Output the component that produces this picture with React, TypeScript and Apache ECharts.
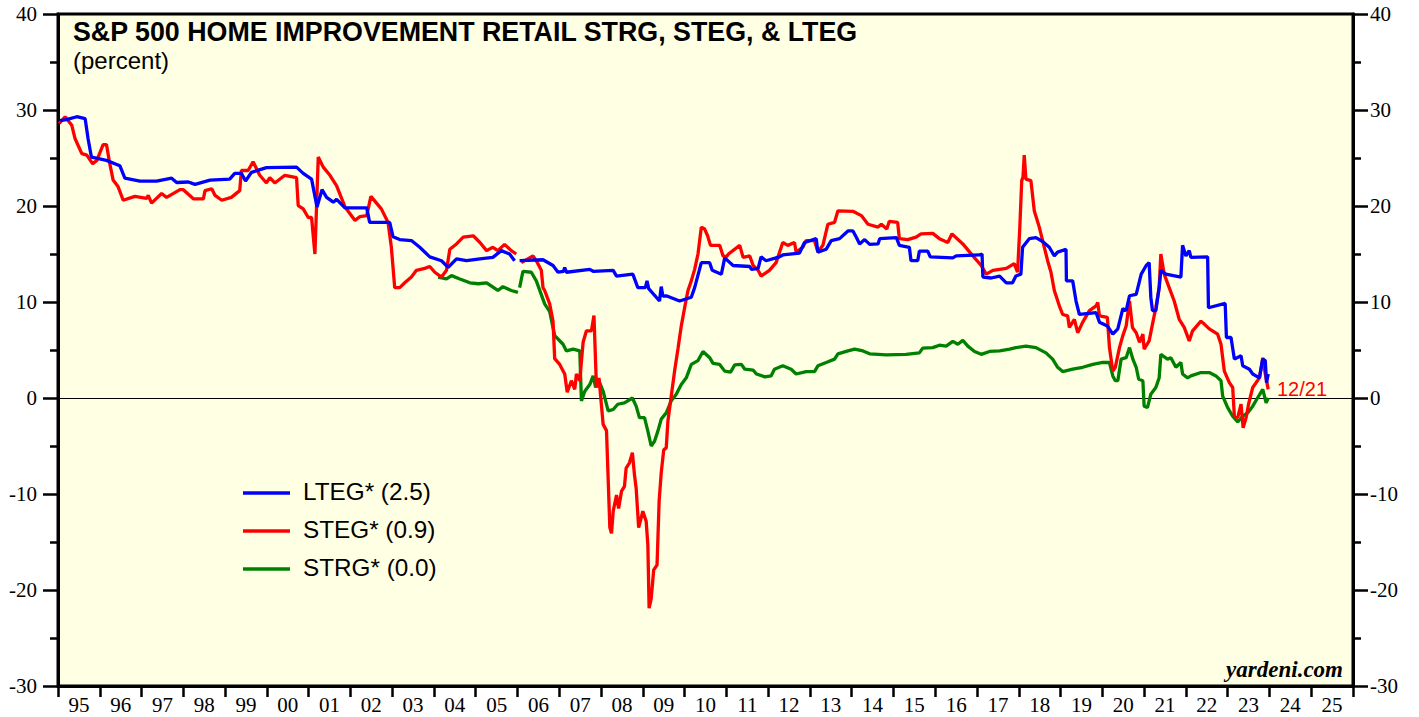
import React, { useEffect, useRef } from 'react';
import * as echarts from 'echarts';

const yearLabels = ['95','96','97','98','99','00','01','02','03','04','05','06','07','08','09','10','11','12','13','14','15','16','17','18','19','20','21','22','23','24','25'];

const legendNames = ['LTEG* (2.5)', 'STEG* (0.9)', 'STRG* (0.0)'];

const ltegData: [number, number | null][] = [
[1995.05,28.9],[1995.2,29.0],[1995.45,29.3],[1995.65,29.1],[1995.72,27.0],[1995.8,25.1],[1996.16,24.75],[1996.48,24.2],[1996.6,22.9],[1996.96,22.6],[1997.36,22.6],[1997.72,22.9],[1997.84,22.45],[1998.12,22.5],[1998.28,22.25],[1998.64,22.7],[1999.11,22.8],[1999.23,23.4],[1999.39,23.4],[1999.49,22.6],[1999.63,23.5],[1999.99,24.0],[2000.71,24.05],[2000.87,23.4],[2001.07,22.8],[2001.2,19.9],[2001.32,21.7],[2001.43,20.9],[2001.59,20.4],[2001.67,20.7],[2001.87,19.8],[2002.39,19.8],[2002.46,18.3],[2002.94,18.3],[2003.02,16.8],[2003.18,16.5],[2003.46,16.4],[2003.66,15.7],[2003.9,14.7],[2004.18,14.3],[2004.34,13.6],[2004.54,14.5],[2004.78,14.3],[2005.1,14.5],[2005.41,14.65],[2005.61,15.35],[2005.81,15.0],[2005.93,14.3],[2006.0,null],[2006.05,14.3],[2006.61,14.4],[2006.85,13.8],[2006.97,13.1],[2007.1,13.2],[2007.13,13.6],[2007.17,13.1],[2007.73,13.4],[2007.81,13.2],[2008.29,13.3],[2008.37,12.7],[2008.76,12.9],[2008.88,11.5],[2009.06,11.5],[2009.1,12.2],[2009.14,11.4],[2009.4,10.1],[2009.44,11.6],[2009.48,10.6],[2009.56,10.65],[2009.88,10.1],[2010.16,10.5],[2010.24,11.5],[2010.4,14.1],[2010.6,14.1],[2010.66,13.3],[2010.88,12.9],[2010.96,14.6],[2011.16,13.8],[2011.56,13.7],[2011.6,13.4],[2011.76,13.5],[2011.83,14.7],[2011.95,14.3],[2012.27,14.7],[2012.35,14.9],[2012.75,15.1],[2012.87,16.2],[2013.15,16.6],[2013.19,15.2],[2013.39,15.5],[2013.51,16.4],[2013.71,16.6],[2013.91,17.4],[2014.03,17.4],[2014.11,16.75],[2014.19,16.05],[2014.31,16.5],[2014.43,16.0],[2014.63,16.05],[2014.67,16.6],[2015.07,16.7],[2015.14,15.9],[2015.38,15.7],[2015.42,14.3],[2015.58,14.3],[2015.62,15.3],[2015.82,15.3],[2015.88,14.7],[2016.42,14.6],[2016.5,14.8],[2017.06,14.9],[2017.12,15.0],[2017.14,12.6],[2017.34,12.5],[2017.54,12.7],[2017.7,12.0],[2017.85,12.0],[2017.93,12.7],[2018.05,12.9],[2018.09,15.7],[2018.25,16.6],[2018.41,16.7],[2018.57,16.3],[2018.73,15.7],[2018.85,14.8],[2018.93,15.2],[2019.13,15.5],[2019.14,12.2],[2019.29,12.2],[2019.37,10.1],[2019.45,8.7],[2019.85,8.9],[2019.93,7.9],[2020.12,7.5],[2020.25,6.65],[2020.37,7.2],[2020.49,9.3],[2020.57,9.1],[2020.65,10.65],[2020.81,10.8],[2020.93,12.9],[2021.05,13.8],[2021.12,14.1],[2021.16,10.5],[2021.2,9.1],[2021.28,9.1],[2021.36,11.5],[2021.4,13.3],[2021.52,12.9],[2021.88,12.6],[2021.92,15.9],[2022.0,14.8],[2022.08,15.35],[2022.12,14.65],[2022.52,14.7],[2022.54,9.4],[2022.94,9.85],[2022.97,6.3],[2023.08,6.3],[2023.16,4.05],[2023.32,4.4],[2023.36,3.35],[2023.52,3.0],[2023.6,2.5],[2023.76,2.1],[2023.84,4.05],[2023.9,3.9],[2023.93,1.6],[2023.97,2.5]
];

const stegData: [number, number | null][] = [
[1995.03,28.6],[1995.06,28.75],[1995.17,29.3],[1995.33,28.4],[1995.41,27.0],[1995.57,25.45],[1995.69,25.3],[1995.83,24.4],[1995.93,24.75],[1996.08,26.4],[1996.16,26.4],[1996.24,24.4],[1996.32,22.7],[1996.44,22.0],[1996.56,20.6],[1996.84,21.0],[1997.12,20.8],[1997.16,21.1],[1997.24,20.3],[1997.48,21.3],[1997.6,20.9],[1997.92,21.7],[1998.0,21.7],[1998.24,20.75],[1998.48,20.75],[1998.52,21.6],[1998.68,21.8],[1998.76,21.1],[1998.92,20.6],[1999.15,20.9],[1999.35,21.6],[1999.39,23.7],[1999.55,23.7],[1999.67,24.6],[1999.83,23.2],[1999.99,22.4],[2000.07,22.95],[2000.19,22.4],[2000.43,23.2],[2000.71,22.95],[2000.75,20.05],[2000.87,19.7],[2000.99,18.8],[2001.07,18.8],[2001.15,15.0],[2001.23,25.1],[2001.35,24.05],[2001.51,23.2],[2001.67,22.1],[2001.87,19.9],[2001.99,19.2],[2002.11,18.5],[2002.23,18.9],[2002.39,19.0],[2002.49,21.0],[2002.74,19.7],[2002.9,18.3],[2002.98,15.7],[2003.06,11.5],[2003.18,11.5],[2003.3,12.0],[2003.46,12.6],[2003.58,13.3],[2003.78,13.5],[2003.9,13.7],[2004.02,13.1],[2004.18,12.6],[2004.3,13.3],[2004.38,15.5],[2004.54,16.05],[2004.7,16.75],[2004.94,16.9],[2005.1,16.2],[2005.26,15.35],[2005.41,15.7],[2005.53,15.35],[2005.69,16.0],[2005.85,15.35],[2005.97,15.0],[2006.03,null],[2006.09,14.1],[2006.37,14.8],[2006.45,14.3],[2006.57,13.3],[2006.61,11.5],[2006.65,11.2],[2006.77,9.8],[2006.85,8.0],[2006.89,4.1],[2007.01,3.5],[2007.13,2.5],[2007.19,0.6],[2007.29,1.8],[2007.37,0.9],[2007.41,2.5],[2007.49,1.8],[2007.57,5.8],[2007.65,7.0],[2007.77,7.0],[2007.83,8.6],[2007.89,1.1],[2007.95,2.1],[2008.05,-2.75],[2008.13,-3.4],[2008.21,-13.5],[2008.25,-14.1],[2008.29,-11.8],[2008.37,-10.1],[2008.42,-11.5],[2008.49,-9.7],[2008.56,-9.2],[2008.6,-7.3],[2008.68,-6.75],[2008.75,-5.7],[2008.8,-8.0],[2008.84,-9.4],[2008.9,-13.5],[2009.0,-11.8],[2009.08,-12.85],[2009.12,-15.3],[2009.15,-21.9],[2009.2,-20.9],[2009.26,-17.9],[2009.34,-17.4],[2009.39,-10.75],[2009.44,-7.8],[2009.5,-5.4],[2009.56,-5.2],[2009.6,-2.4],[2009.68,0.2],[2009.76,2.8],[2009.84,5.1],[2009.92,7.5],[2010.0,9.4],[2010.08,11.2],[2010.16,12.2],[2010.24,13.4],[2010.32,15.0],[2010.4,17.8],[2010.48,17.6],[2010.55,16.9],[2010.62,15.9],[2010.84,15.9],[2010.92,14.8],[2011.0,14.7],[2011.05,15.0],[2011.32,15.9],[2011.4,14.65],[2011.56,14.8],[2011.64,13.8],[2011.76,13.3],[2011.83,12.7],[2012.03,13.3],[2012.19,14.1],[2012.35,16.2],[2012.47,15.9],[2012.63,16.2],[2012.67,15.2],[2012.83,15.7],[2012.91,16.4],[2013.11,16.4],[2013.19,15.2],[2013.31,15.9],[2013.43,18.1],[2013.59,18.3],[2013.67,19.5],[2014.03,19.45],[2014.23,19.0],[2014.39,18.1],[2014.63,17.8],[2014.71,18.1],[2014.84,17.6],[2014.9,18.4],[2015.1,18.3],[2015.14,16.6],[2015.34,16.5],[2015.54,16.75],[2015.66,17.1],[2015.94,17.15],[2016.1,16.6],[2016.3,16.2],[2016.4,17.1],[2016.66,16.05],[2016.9,14.8],[2017.1,13.8],[2017.22,12.9],[2017.38,13.3],[2017.7,13.5],[2017.89,14.0],[2017.97,13.1],[2018.02,17.4],[2018.07,22.65],[2018.1,23.0],[2018.13,25.3],[2018.17,22.8],[2018.29,22.65],[2018.37,19.5],[2018.49,17.8],[2018.57,16.4],[2018.69,14.3],[2018.77,13.1],[2018.85,11.2],[2018.97,9.6],[2019.05,8.7],[2019.17,8.55],[2019.21,7.35],[2019.33,8.2],[2019.41,6.8],[2019.53,7.9],[2019.69,9.1],[2019.85,9.6],[2019.89,9.95],[2019.93,8.55],[2020.12,8.4],[2020.17,5.25],[2020.25,2.8],[2020.31,3.2],[2020.41,5.25],[2020.49,6.5],[2020.57,7.5],[2020.65,10.1],[2020.72,7.35],[2020.81,6.8],[2020.89,5.8],[2020.97,6.65],[2021.0,5.1],[2021.12,5.95],[2021.2,7.7],[2021.28,9.4],[2021.36,11.5],[2021.4,15.0],[2021.48,12.9],[2021.6,11.5],[2021.72,10.1],[2021.84,8.2],[2021.96,7.35],[2022.08,5.95],[2022.16,7.0],[2022.36,8.0],[2022.44,7.7],[2022.56,7.2],[2022.76,6.65],[2022.84,5.6],[2022.92,2.8],[2023.04,1.6],[2023.12,1.1],[2023.16,-1.9],[2023.24,-2.05],[2023.32,-0.65],[2023.37,-3.1],[2023.44,-2.05],[2023.5,-0.65],[2023.6,1.1],[2023.76,2.1],[2023.84,4.2],[2023.9,2.5],[2023.97,0.9]
];

const strgData: [number, number | null][] = [
[2004.1,12.6],[2004.3,12.4],[2004.42,12.75],[2004.62,12.4],[2004.86,12.0],[2005.06,11.9],[2005.26,12.0],[2005.53,11.2],[2005.65,11.6],[2005.85,11.2],[2006.01,11.0],[2006.03,null],[2006.05,11.5],[2006.13,13.2],[2006.33,13.1],[2006.45,12.2],[2006.55,11.0],[2006.65,9.8],[2006.77,9.0],[2006.89,6.5],[2007.09,5.6],[2007.17,4.9],[2007.33,5.1],[2007.49,4.9],[2007.53,-0.3],[2007.61,0.7],[2007.73,1.4],[2007.81,2.3],[2007.87,1.1],[2007.93,2.0],[2008.05,0.7],[2008.17,-1.35],[2008.29,-1.2],[2008.4,-0.65],[2008.56,-0.5],[2008.75,0.0],[2008.84,-0.85],[2008.92,-2.05],[2009.04,-2.05],[2009.12,-3.45],[2009.2,-5.0],[2009.28,-4.5],[2009.36,-3.45],[2009.44,-2.2],[2009.56,-1.55],[2009.68,-0.3],[2009.8,0.4],[2009.92,1.4],[2010.04,2.1],[2010.16,3.5],[2010.32,3.9],[2010.44,4.85],[2010.6,4.2],[2010.68,3.6],[2010.84,3.5],[2010.96,2.8],[2011.1,2.7],[2011.2,3.45],[2011.36,3.5],[2011.44,3.0],[2011.64,2.9],[2011.72,2.5],[2011.92,2.2],[2012.07,2.3],[2012.15,3.0],[2012.35,3.35],[2012.55,3.0],[2012.67,2.5],[2012.91,2.75],[2013.11,2.75],[2013.19,3.35],[2013.39,3.7],[2013.59,4.05],[2013.67,4.6],[2013.91,4.9],[2014.07,5.1],[2014.27,4.9],[2014.43,4.6],[2014.83,4.5],[2015.3,4.55],[2015.62,4.7],[2015.7,5.2],[2015.94,5.25],[2016.1,5.5],[2016.26,5.4],[2016.42,5.9],[2016.54,5.6],[2016.66,6.0],[2016.78,5.4],[2016.94,4.85],[2017.1,4.55],[2017.3,4.85],[2017.54,4.9],[2017.78,5.1],[2017.93,5.25],[2018.17,5.4],[2018.41,5.25],[2018.65,4.7],[2018.81,4.05],[2018.93,3.2],[2019.05,2.75],[2019.29,3.0],[2019.53,3.2],[2019.77,3.5],[2020.01,3.7],[2020.17,3.7],[2020.25,2.3],[2020.31,1.8],[2020.37,1.8],[2020.45,4.05],[2020.57,4.2],[2020.65,5.25],[2020.73,4.05],[2020.81,3.2],[2020.87,1.95],[2020.97,1.8],[2021.0,-0.85],[2021.08,-1.0],[2021.16,0.4],[2021.28,1.1],[2021.36,2.1],[2021.4,4.55],[2021.56,4.05],[2021.64,4.2],[2021.76,3.2],[2021.88,3.7],[2021.92,2.5],[2022.04,2.1],[2022.12,2.3],[2022.36,2.65],[2022.56,2.65],[2022.72,2.3],[2022.84,1.8],[2022.88,0.2],[2023.0,-1.0],[2023.12,-1.9],[2023.24,-2.5],[2023.36,-1.9],[2023.48,-1.55],[2023.6,-0.85],[2023.72,0.05],[2023.84,0.9],[2023.92,-0.5],[2023.97,0.0]
];

const BLUE = '#0000ff';
const RED = '#ff0000';
const GREEN = '#008000';
const SANS = '"Liberation Sans", Arial, sans-serif';
const SERIF = '"Liberation Serif", "Times New Roman", serif';

function yAxisCfg(position: 'left' | 'right', margin: number) {
  return {
    type: 'value',
    position,
    min: -30,
    max: 40,
    interval: 10,
    axisLine: { show: true, onZero: false, lineStyle: { color: '#000', width: 3 } },
    axisTick: { show: true, length: 15, lineStyle: { color: '#000', width: 2.5 } },
    minorTick: { show: true, splitNumber: 2, length: 8, lineStyle: { color: '#000', width: 2.5 } },
    splitLine: { show: false },
    minorSplitLine: { show: false },
    axisLabel: { color: '#000', fontFamily: SERIF, fontSize: 21, margin },
  };
}

function lineSeries(name: string, data: any[], color: string, z: number, extra: any = {}) {
  return {
    name,
    type: 'line',
    xAxisIndex: 0,
    yAxisIndex: 0,
    data,
    symbol: 'none',
    showSymbol: false,
    connectNulls: false,
    lineStyle: { color, width: 3.3 },
    itemStyle: { color },
    z,
    ...extra,
  };
}

export default function App() {
  const ref = useRef<HTMLDivElement>(null);
  useEffect(() => {
    document.body.style.margin = '0';
    const chart = echarts.init(ref.current!, null, { renderer: 'svg' });
    const legendRows = [
      { name: legendNames[0], color: BLUE, y: 493 },
      { name: legendNames[1], color: RED, y: 531 },
      { name: legendNames[2], color: GREEN, y: 569 },
    ];
    const graphics: any[] = [
      { type: 'text', left: 73, top: 18, style: { text: 'S&P 500 HOME IMPROVEMENT RETAIL STRG, STEG, & LTEG', font: `bold 26.8px ${SANS}`, fill: '#000' }, z: 100 },
      { type: 'text', left: 73, top: 48, style: { text: '(percent)', font: `24px ${SANS}`, fill: '#000' }, z: 100 },
      { type: 'text', left: 1277, top: 379, style: { text: '12/21', font: `20px ${SANS}`, fill: RED }, z: 100 },
      { type: 'text', right: 76, top: 658, style: { text: 'yardeni.com', font: `italic bold 23px ${SERIF}`, fill: '#000' }, z: 100 },
    ];
    legendRows.forEach((r) => {
      graphics.push({ type: 'line', shape: { x1: 243, y1: r.y, x2: 290, y2: r.y }, style: { stroke: r.color, lineWidth: 3.5 }, z: 100 });
      graphics.push({ type: 'text', left: 303, top: r.y - 14, style: { text: r.name, font: `24.3px ${SANS}`, fill: '#000' }, z: 100 });
    });

    chart.setOption({
      animation: false,
      backgroundColor: '#ffffff',
      grid: { left: 58, right: 66, top: 14, bottom: 31, show: true, backgroundColor: '#FFFFE3', borderColor: '#000', borderWidth: 3 },
      xAxis: [
        { type: 'value', min: 1995, max: 2026, show: false },
        {
          type: 'category',
          data: yearLabels,
          position: 'bottom',
          boundaryGap: true,
          axisLine: { show: true, onZero: false, lineStyle: { color: '#000', width: 3 } },
          axisTick: { show: true, interval: 0, length: 11, lineStyle: { color: '#000', width: 2.5 } },
          axisLabel: { color: '#000', fontFamily: SERIF, fontSize: 21, margin: 8, interval: 0 },
          splitLine: { show: false },
        },
      ],
      yAxis: [yAxisCfg('left', 21), yAxisCfg('right', 17)],
      series: [
        lineSeries(legendNames[2], strgData, GREEN, 3, {
          markLine: {
            silent: true,
            symbol: ['none', 'none'],
            label: { show: false },
            lineStyle: { color: '#000', width: 1, type: 'solid' },
            data: [{ yAxis: 0 }],
            z: 1,
          },
        }),
        lineSeries(legendNames[1], stegData, RED, 4),
        lineSeries(legendNames[0], ltegData, BLUE, 5),
      ],
      graphic: graphics,
    });
    return () => chart.dispose();
  }, []);
  return <div ref={ref} style={{ width: 1419, height: 717 }} />;
}
